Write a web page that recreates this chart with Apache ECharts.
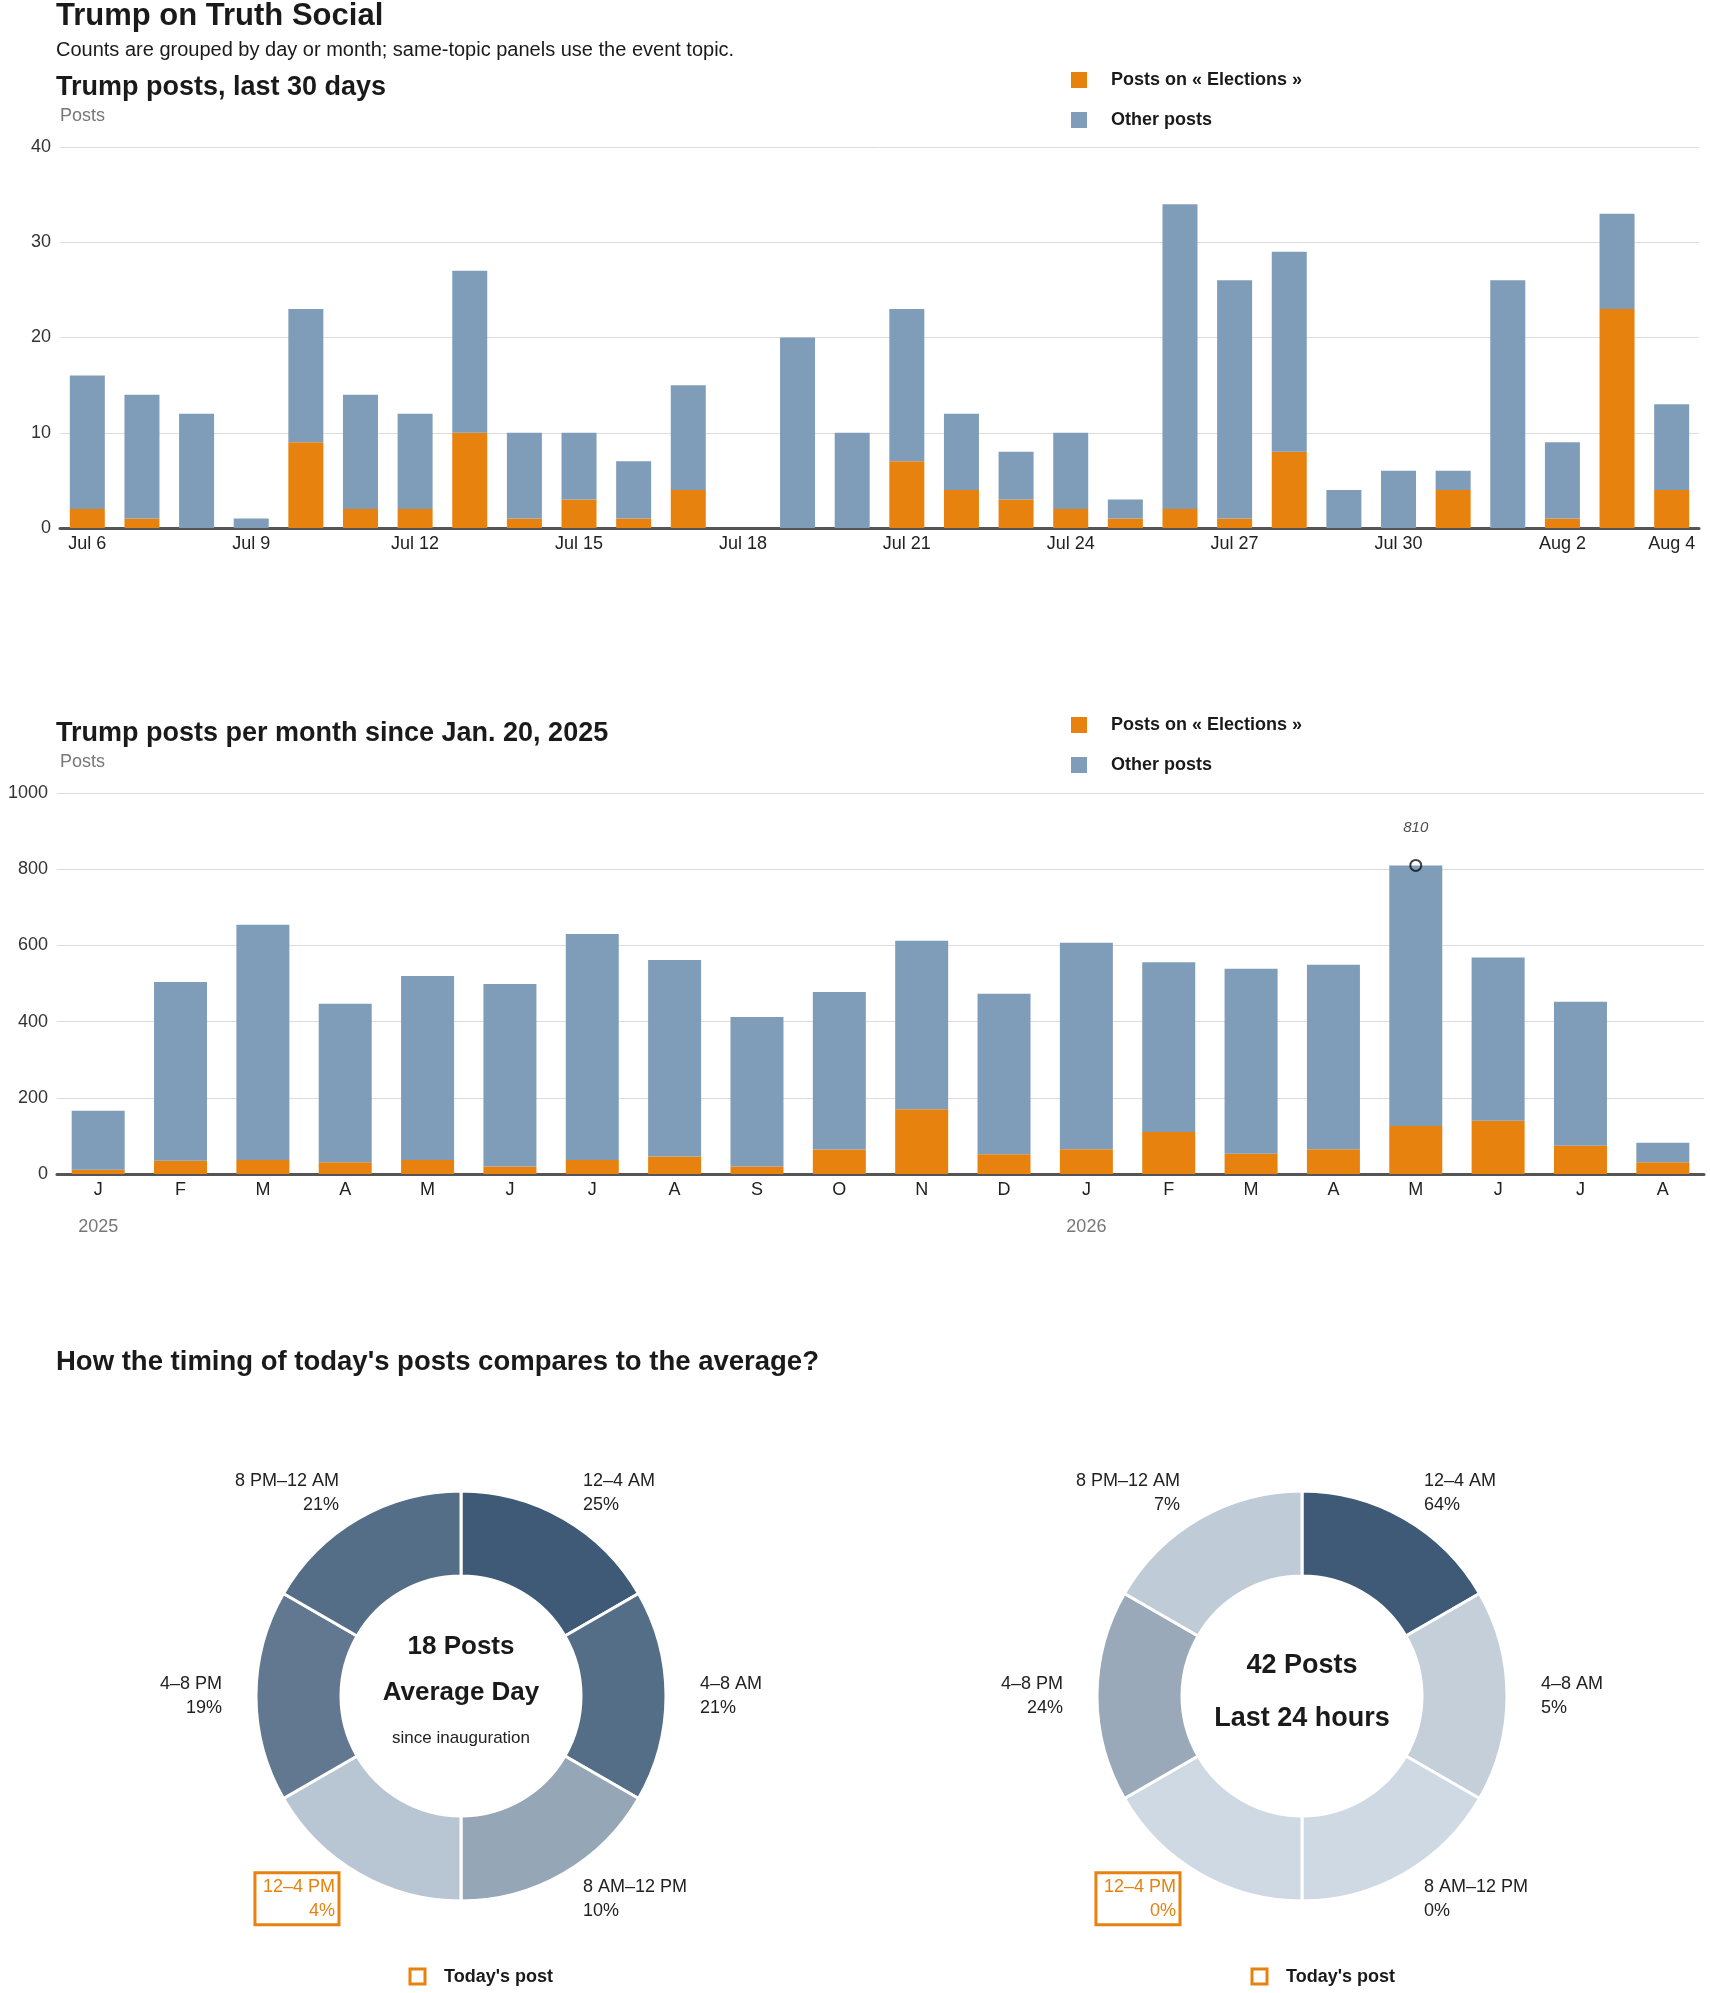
<!DOCTYPE html>
<html>
<head>
<meta charset="utf-8">
<script src="https://cdn.jsdelivr.net/npm/echarts@6/dist/echarts.min.js"></script>
<style>
  html, body { margin: 0; padding: 0; background: #fff; }
  #chart { width: 1710px; height: 1993px; }
</style>
</head>
<body>
<div id="chart"></div>
<script>
// last 30 days
const days = ['Jul 6', 'Jul 7', 'Jul 8', 'Jul 9', 'Jul 10', 'Jul 11', 'Jul 12', 'Jul 13', 'Jul 14', 'Jul 15',
  'Jul 16', 'Jul 17', 'Jul 18', 'Jul 19', 'Jul 20', 'Jul 21', 'Jul 22', 'Jul 23', 'Jul 24', 'Jul 25',
  'Jul 26', 'Jul 27', 'Jul 28', 'Jul 29', 'Jul 30', 'Jul 31', 'Aug 1', 'Aug 2', 'Aug 3', 'Aug 4']
const dayTotal = [16, 14, 12, 1, 23, 14, 12, 27, 10, 10, 7, 15, 0, 20, 10, 23, 12, 8, 10, 3, 34, 26, 29, 4, 6, 6, 26, 9, 33, 13]
const dayElections = [2, 1, 0, 0, 9, 2, 2, 10, 1, 3, 1, 4, 0, 0, 0, 7, 4, 3, 2, 1, 2, 1, 8, 0, 0, 4, 0, 1, 23, 4]

// per month since inauguration
const months = ['J', 'F', 'M', 'A', 'M', 'J', 'J', 'A', 'S', 'O', 'N', 'D', 'J', 'F', 'M', 'A', 'M', 'J', 'J', 'A']
const monthYears = ['2025', '', '', '', '', '', '', '', '', '', '', '', '2026', '', '', '', '', '', '', '']
const monthTotal = [166, 504, 654, 447, 520, 499, 630, 562, 412, 478, 612, 473, 607, 556, 539, 549, 810, 568, 452, 82]
const monthElections = [11, 35, 37, 31, 37, 20, 37, 46, 20, 64, 170, 52, 65, 110, 53, 65, 126, 140, 74, 31]

// time of day
const slots = ['12–4 AM', '4–8 AM', '8 AM–12 PM', '12–4 PM', '4–8 PM', '8 PM–12 AM']
const slotHours = [4, 4, 4, 4, 4, 4]
const avgShare = [25, 21, 10, 4, 19, 21]
const todayShare = [64, 5, 0, 0, 24, 7]
const todaySlot = '12–4 PM'

const ELEC = 'Posts on « Elections »'
const OTHER = 'Other posts'
const ORANGE = '#e8820e'
const BLUE = '#7f9db9'
const FONT = '"Liberation Sans", Arial, sans-serif'
const INK = '#1a1a1a'

const minus = (a, b) => a.map((v, i) => v - b[i])
const dayOther = minus(dayTotal, dayElections)
const monthOther = minus(monthTotal, monthElections)

// light -> dark blue by share of the busiest slot
function shade(t) {
  const lo = [207, 217, 227], hi = [62, 90, 118]
  const c = lo.map((v, i) => Math.round(v + (hi[i] - v) * t))
  return 'rgb(' + c.join(',') + ')'
}

function text(x, y, str, font, fill, align) {
  return {
    type: 'text', x, y, silent: true,
    style: { text: str, font, fill: fill || INK, textAlign: align || 'left', textVerticalAlign: 'middle' }
  }
}

function legendAt(top) {
  return {
    top, left: 1071, orient: 'vertical', padding: 0, icon: 'rect',
    itemWidth: 16, itemHeight: 16, itemGap: 22, selectedMode: false,
    textStyle: { fontFamily: FONT, fontWeight: 'bold', fontSize: 18, color: INK, padding: [0, 0, 0, 19] },
    data: [ELEC, OTHER]
  }
}

function clockSeries(center, shares) {
  const top = Math.max(...shares)
  return {
    type: 'pie', center, radius: [120, 205], startAngle: 90, clockwise: true,
    avoidLabelOverlap: false, silent: true,
    itemStyle: { borderColor: '#fff', borderWidth: 3 },
    labelLine: { show: false, length: 29, length2: 0 },
    label: {
      show: true, position: 'outside', fontFamily: FONT, fontSize: 18, lineHeight: 24, color: '#222',
      formatter: p => p.name + '\n' + shares[p.dataIndex] + '%'
    },
    data: slots.map((s, i) => {
      const item = { name: s, value: slotHours[i], itemStyle: { color: shade(shares[i] / top) } }
      if (s === todaySlot) {
        item.label = { color: ORANGE, borderColor: ORANGE, borderWidth: 3, padding: [3, 4, 1, 8] }
      }
      return item
    })
  }
}

const axisLine = { show: true, lineStyle: { color: '#555', width: 3 } }
const splitLine = { show: true, lineStyle: { color: '#dcdcdc', width: 1 } }
const tickFont = { fontFamily: FONT, fontSize: 18 }

const chart = echarts.init(document.getElementById('chart'))
const peak = monthTotal.indexOf(Math.max(...monthTotal))

chart.setOption({
  animation: false,
  backgroundColor: '#fff',
  legend: [legendAt(71), legendAt(716)],
  grid: [
    { left: 60, right: 11, top: 147, height: 381 },
    { left: 57, right: 6, top: 793, height: 381 }
  ],
  xAxis: [
    {
      type: 'category', gridIndex: 0, data: days, axisLine, axisTick: { show: false },
      axisLabel: {
        ...tickFont, margin: 7, color: '#222',
        interval: i => i % 3 === 0 || i === days.length - 1
      }
    },
    {
      type: 'category', gridIndex: 1, data: months, axisLine, axisTick: { show: false },
      axisLabel: { ...tickFont, margin: 7, color: '#222', interval: 0 }
    },
    {
      type: 'category', gridIndex: 1, data: monthYears, position: 'bottom',
      axisLine: { show: false }, axisTick: { show: false },
      axisLabel: { ...tickFont, margin: 44, color: '#777', interval: 0 }
    }
  ],
  yAxis: [
    {
      type: 'value', gridIndex: 0, min: 0, max: 40, interval: 10, splitLine,
      axisLabel: { ...tickFont, margin: 9, color: '#333' }
    },
    {
      type: 'value', gridIndex: 1, min: 0, max: 1000, interval: 200, splitLine,
      axisLabel: { ...tickFont, margin: 9, color: '#333', formatter: v => String(v) }
    }
  ],
  series: [
    { name: ELEC, type: 'bar', stack: 'd', xAxisIndex: 0, yAxisIndex: 0, barWidth: 35, itemStyle: { color: ORANGE }, data: dayElections },
    { name: OTHER, type: 'bar', stack: 'd', xAxisIndex: 0, yAxisIndex: 0, barWidth: 35, itemStyle: { color: BLUE }, data: dayOther },
    { name: ELEC, type: 'bar', stack: 'm', xAxisIndex: 1, yAxisIndex: 1, barWidth: 53, itemStyle: { color: ORANGE }, data: monthElections },
    { name: OTHER, type: 'bar', stack: 'm', xAxisIndex: 1, yAxisIndex: 1, barWidth: 53, itemStyle: { color: BLUE }, data: monthOther },
    {
      type: 'scatter', xAxisIndex: 1, yAxisIndex: 1, z: 5, silent: true,
      symbol: 'circle', symbolSize: 11,
      itemStyle: { color: 'rgba(255,255,255,0)', borderColor: '#111', borderWidth: 2 },
      label: {
        show: true, position: 'top', distance: 24, fontFamily: FONT, fontStyle: 'italic', fontSize: 15, color: '#222',
        formatter: p => p.value[1]
      },
      data: [[peak, monthTotal[peak]]]
    },
    clockSeries([461, 1696], avgShare),
    clockSeries([1302, 1696], todayShare)
  ],
  graphic: [
    text(56, 16, 'Trump on Truth Social', 'bold 31px ' + FONT),
    text(56, 50, 'Counts are grouped by day or month; same-topic panels use the event topic.', '20px ' + FONT),
    text(56, 88, 'Trump posts, last 30 days', 'bold 27px ' + FONT),
    text(60, 116, 'Posts', '18px ' + FONT, '#777'),
    text(56, 734, 'Trump posts per month since Jan. 20, 2025', 'bold 27px ' + FONT),
    text(60, 762, 'Posts', '18px ' + FONT, '#777'),
    text(56, 1362, "How the timing of today's posts compares to the average?", 'bold 27.5px ' + FONT),
    text(461, 1647, '18 Posts', 'bold 26px ' + FONT, INK, 'center'),
    text(461, 1693, 'Average Day', 'bold 26px ' + FONT, INK, 'center'),
    text(461, 1738, 'since inauguration', '17px ' + FONT, '#222', 'center'),
    text(1302, 1666, '42 Posts', 'bold 27px ' + FONT, INK, 'center'),
    text(1302, 1719, 'Last 24 hours', 'bold 27px ' + FONT, INK, 'center'),
    { type: 'rect', x: 410, y: 1969, silent: true, shape: { width: 15, height: 15 }, style: { fill: '#fff', stroke: ORANGE, lineWidth: 3 } },
    text(444, 1977, "Today's post", 'bold 18px ' + FONT),
    { type: 'rect', x: 1252, y: 1969, silent: true, shape: { width: 15, height: 15 }, style: { fill: '#fff', stroke: ORANGE, lineWidth: 3 } },
    text(1286, 1977, "Today's post", 'bold 18px ' + FONT)
  ]
})
</script>
</body>
</html>
